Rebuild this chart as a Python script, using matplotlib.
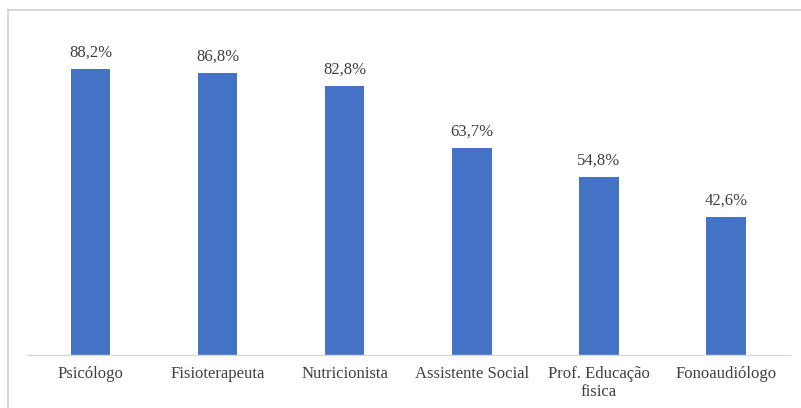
import matplotlib
matplotlib.use("Agg")
from matplotlib import pyplot as plt
from matplotlib.lines import Line2D

categorias = ["Psicólogo", "Fisioterapeuta", "Nutricionista", "Assistente Social",
              "Prof. Educação\nfisica", "Fonoaudiólogo"]
valores = [88.2, 86.8, 82.8, 63.7, 54.8, 42.6]
rotulos = ["88,2%", "86,8%", "82,8%", "63,7%", "54,8%", "42,6%"]

plt.rcParams['font.family'] = ['Liberation Serif', 'DejaVu Serif']

fig = plt.figure(figsize=(8.01, 4.08), dpi=100)
ax = fig.add_axes([0.0337, 0.130, 0.952, 0.796])

x = range(len(categorias))
barras = ax.bar(x, valores, width=0.31, color='#4472C4')

for b, r in zip(barras, rotulos):
    ax.annotate(r, (b.get_x() + b.get_width() / 2, b.get_height()),
                xytext=(0, 6), textcoords='offset points',
                ha='center', va='bottom', fontsize=12, color='#404040')

ax.set_xlim(-0.5, len(categorias) - 0.5)
ax.set_ylim(0, 100)
ax.set_xticks(list(x))
ax.set_xticklabels(categorias, fontsize=12, color='#404040', linespacing=1.2)
ax.tick_params(axis='x', length=0, pad=8)
ax.set_yticks([])
for s in ['top', 'right', 'left']:
    ax.spines[s].set_visible(False)
ax.spines['bottom'].set_color('#D9D9D9')
ax.spines['bottom'].set_linewidth(1.0)

# moldura cortada do grafico original
fig.add_artist(Line2D([8 / 801, 1.0], [1 - 9.5 / 408, 1 - 9.5 / 408],
                      transform=fig.transFigure, color='#D0D0D0', lw=1.2))
fig.add_artist(Line2D([8 / 801, 8 / 801], [0.0, 1 - 9.5 / 408],
                      transform=fig.transFigure, color='#D0D0D0', lw=1.2))

fig.savefig("out.png", dpi=100)
